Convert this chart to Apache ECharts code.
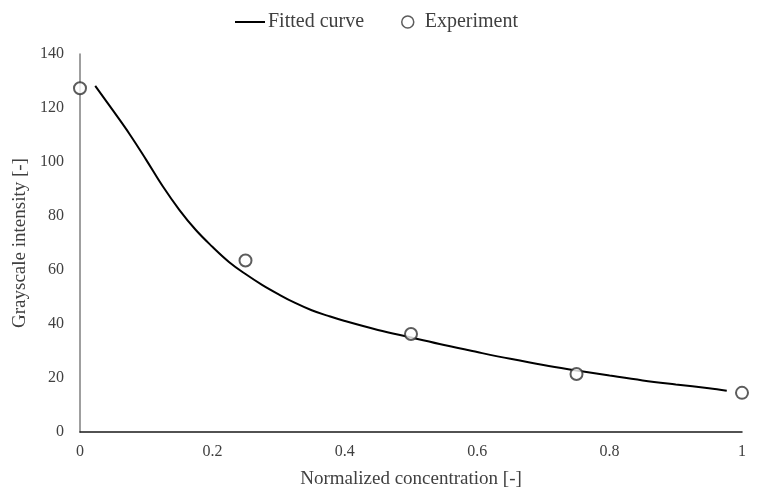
<!DOCTYPE html>
<html>
<head>
<meta charset="utf-8">
<script src="https://cdn.jsdelivr.net/npm/echarts@6/dist/echarts.min.js"></script>
<style>
  html, body { margin: 0; padding: 0; background: #fff; }
  #chart { width: 760px; height: 490px; }
</style>
</head>
<body>
<div id="chart"></div>
<script>
// Fitted curve samples (normalized concentration, grayscale intensity)
const curveX = [0.023, 0.05, 0.075, 0.10, 0.125, 0.15, 0.175, 0.20, 0.225, 0.25, 0.275, 0.30, 0.325, 0.35, 0.375, 0.40,
                0.45, 0.50, 0.55, 0.60, 0.65, 0.70, 0.75, 0.80, 0.85, 0.90, 0.95, 0.977];
const curveY = [128.2, 119.0, 110.3, 100.8, 91.0, 82.3, 74.8, 68.6, 63.0, 58.5, 54.5, 51.0, 47.8, 45.1, 43.0, 41.1,
                37.8, 35.0, 32.2, 29.6, 27.1, 24.8, 22.8, 20.9, 19.1, 17.6, 16.2, 15.3];

// Measured points
const expX = [0, 0.25, 0.5, 0.75, 1];
const expY = [127.3, 63.5, 36.3, 21.5, 14.5];

const xTicks = [0, 0.2, 0.4, 0.6, 0.8, 1];

const FONT = 'Liberation Serif';
const TXT = '#404040';

const chart = echarts.init(document.getElementById('chart'));
chart.setOption({
  animation: false,
  textStyle: { fontFamily: FONT },
  grid: { left: 80, right: 18, top: 54, bottom: 58, containLabel: false, outerBoundsMode: 'none' },
  legend: [
    {
      data: [{ name: 'Fitted curve', icon: 'rect' }],
      left: 230, top: 7,
      itemWidth: 30, itemHeight: 2, itemGap: 2,
      textStyle: { fontFamily: FONT, fontSize: 20, color: TXT, padding: [0, 0, 0, -2] }
    },
    {
      data: [{ name: 'Experiment', icon: 'circle' }],
      left: 396, top: 7,
      itemWidth: 12, itemHeight: 12, itemGap: 2,
      itemStyle: { color: '#fff', borderColor: '#333', borderWidth: 1.5 },
      textStyle: { fontFamily: FONT, fontSize: 20, color: TXT, padding: [0, 0, 0, 6] }
    }
  ],
  xAxis: {
    type: 'value', min: 0, max: 1, interval: 0.2,
    name: 'Normalized concentration [-]',
    nameLocation: 'middle', nameGap: 38,
    nameTextStyle: { fontFamily: FONT, fontSize: 19, color: TXT },
    axisLine: { show: true, lineStyle: { color: '#1a1a1a', width: 1.5 } },
    axisTick: { show: false },
    splitLine: { show: false },
    axisLabel: {
      fontFamily: FONT, fontSize: 16, color: TXT, margin: 12,
      formatter: v => {
        const t = xTicks.find(k => Math.abs(k - v) < 1e-9);
        return t === undefined ? '' : String(t);
      }
    }
  },
  yAxis: {
    type: 'value', min: 0, max: 140, interval: 20,
    name: 'Grayscale intensity [-]',
    nameLocation: 'middle', nameGap: 49,
    nameTextStyle: { fontFamily: FONT, fontSize: 19, color: TXT },
    axisLine: { show: true, lineStyle: { color: '#7f7f7f', width: 1.5 } },
    axisTick: { show: false },
    splitLine: { show: false },
    axisLabel: { fontFamily: FONT, fontSize: 16, color: TXT, margin: 16 }
  },
  series: [
    {
      name: 'Fitted curve',
      type: 'line',
      smooth: 0.4,
      showSymbol: false,
      symbol: 'none',
      data: curveX.map((x, i) => [x, curveY[i]]),
      lineStyle: { color: '#000', width: 2 },
      itemStyle: { color: '#000' },
      z: 2
    },
    {
      name: 'Experiment',
      type: 'scatter',
      symbol: 'emptyCircle',
      symbolSize: 12,
      data: expX.map((x, i) => [x, expY[i]]),
      itemStyle: { color: '#333', borderColor: '#333', borderWidth: 1.5 },
      z: 3
    }
  ]
});
</script>
</body>
</html>
